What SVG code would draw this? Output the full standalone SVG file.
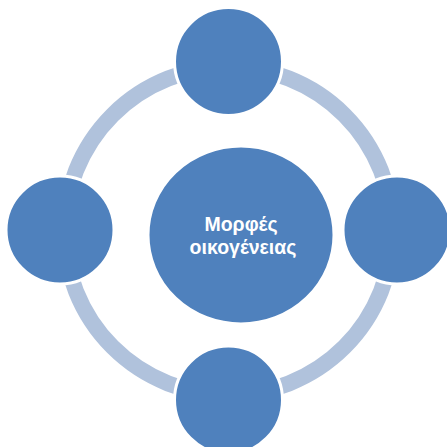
<svg xmlns="http://www.w3.org/2000/svg" width="447" height="447" viewBox="0 0 447 447">
<style>
.node{fill:#4f81bd;stroke:#ffffff;stroke-width:3}
.ring{fill:none;stroke:#b0c2dc;stroke-width:16}
.lbl{font-family:"Liberation Sans",Arial,sans-serif;font-weight:bold;font-size:19.5px;fill:#ffffff;text-anchor:middle}
</style>
<rect width="447" height="447" fill="#ffffff"/>
<g id="connectors">
<circle class="ring" cx="228.5" cy="231" r="164"/>
</g>
<g id="center">
<ellipse class="node" cx="241" cy="235" rx="93" ry="89"/>
<text class="lbl" x="241" y="231">Μορφές</text>
<text class="lbl" x="243" y="254">οικογένειας</text>
</g>
<g id="top"><circle class="node" cx="228.5" cy="61.5" r="54"/></g>
<g id="left"><circle class="node" cx="60" cy="230" r="54"/></g>
<g id="right"><circle class="node" cx="397" cy="230" r="54"/></g>
<g id="bottom"><circle class="node" cx="228.5" cy="400" r="54"/></g>
</svg>
